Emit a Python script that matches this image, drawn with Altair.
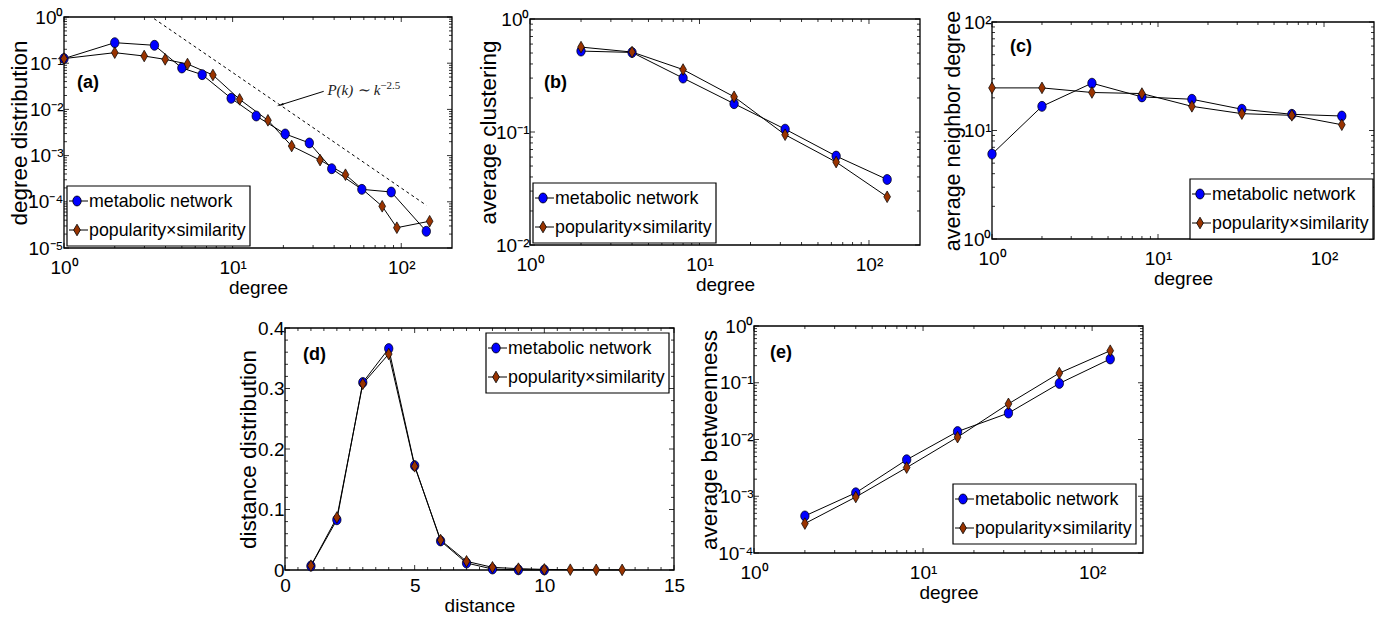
import altair as alt
import pandas as pd

SERIES = ["metabolic network", "popularity×similarity"]
COLORS = ["#0000ff", "#993300"]

# ---------------- data ----------------
# (a) degree distribution
a_k_met = [1, 2, 3.44, 5.0, 6.6, 9.8, 13.8, 20.5, 28.5, 38.7, 58.4, 87.2, 140.8]
a_p_met = [0.126, 0.278, 0.244, 0.0787, 0.0565, 0.0174, 0.0072, 0.00294, 0.00188,
           0.00052, 1.86e-4, 1.63e-4, 2.3e-5]
a_k_ps = [1, 2, 2.99, 3.98, 5.4, 7.64, 11.0, 16.2, 22.4, 33.0, 46.7, 77.1, 94.2, 147.4]
a_p_ps = [0.126, 0.169, 0.143, 0.121, 0.096, 0.0556, 0.0165, 0.0058, 0.00161, 0.0008,
          3.86e-4, 8.0e-5, 2.75e-5, 3.8e-5]
a_ref_k = [3.42, 141.0]
a_ref_p = [0.92, 8.4e-5]
a_arrow_k = [34.7, 19.4]
a_arrow_p = [0.0246, 0.01264]
a_note_k = [36.5, 75.0]
a_note_p = [0.0262, 0.0318]
a_note_text = ["P(k) ∼ k", "−2.5"]

# (b) average clustering
b_k = [2, 4, 8, 16, 32, 64, 128]
b_met = [0.52, 0.506, 0.30, 0.178, 0.106, 0.0612, 0.038]
b_ps = [0.564, 0.51, 0.357, 0.205, 0.0946, 0.0542, 0.0267]

# (c) average neighbor degree
c_k = [1, 2, 4, 8, 16, 32, 64, 128]
c_met = [6.06, 16.7, 27.3, 20.4, 19.4, 15.7, 14.1, 13.6]
c_ps = [24.7, 24.7, 22.4, 21.9, 16.7, 14.3, 13.8, 11.3]

# (d) distance distribution
d_l_met = [1, 2, 3, 4, 5, 6, 7, 8, 9, 10]
d_met = [0.0066, 0.083, 0.310, 0.366, 0.1725, 0.048, 0.0115, 0.0016, 0.0003, 0.0001]
d_l_ps = [1, 2, 3, 4, 5, 6, 7, 8, 9, 10, 11, 12, 13]
d_ps = [0.0071, 0.0868, 0.3077, 0.357, 0.1714, 0.0495, 0.0143, 0.0044, 0.0022, 0.001,
        0.0005, 0.0003, 0.0002]

# (e) average betweenness
e_k = [2, 4, 8, 16, 32, 64, 128]
e_met = [4.5e-4, 1.15e-3, 4.4e-3, 0.0138, 0.0292, 0.0973, 0.262]
e_ps = [3.3e-4, 9.7e-4, 3.2e-3, 0.011, 0.0425, 0.148, 0.367]

# tick values
log_x_major = [1, 10, 100]
lin_d_x = [0, 5, 10, 15]
lin_d_y = [0, 0.1, 0.2, 0.3, 0.4]

# ---------------- styling helpers ----------------
FONT = "Liberation Sans"
SUPS = {"-": "⁻", "0": "⁰", "1": "¹", "2": "²", "3": "³", "4": "⁴", "5": "⁵"}


def ok_neg_titlepad():
    try:
        alt.Axis(titlePadding=-3).to_dict()
        return True
    except Exception:
        return False


NEG_OK = ok_neg_titlepad()


def tp(v):
    return v if NEG_OK else max(v, 0)


def sup(n):
    return "".join(SUPS[c] for c in str(n))


def log_label_expr(exps):
    e = "round(log(datum.value)/LN10)"
    expr = "''"
    for k in exps:
        expr = f"({e}=={k} ? '10{sup(k)}' : {expr})"
    return expr


def ellipse(rx, ry):
    return f"M{rx},0A{rx},{ry},0,1,1,{-rx},0A{rx},{ry},0,1,1,{rx},0Z"


def diamond(hw, hh):
    return f"M0,{-hh}L{hw},0L0,{hh}L{-hw},0Z"


PT_SIZE = 144  # unit = 6 px
PT_CIRCLE = ellipse(0.7, 0.83)
PT_DIAMOND = diamond(0.56, 0.97)
SHAPES = [PT_CIRCLE, PT_DIAMOND]

# legend box geometry (pixels)
LEG_W, LEG_H = 183, 60
LEG_ROW = [15, 44]


def make_df(x1, y1, x2, y2):
    rows = [{"x": a, "y": b, "series": SERIES[0]} for a, b in zip(x1, y1)]
    rows += [{"x": a, "y": b, "series": SERIES[1]} for a, b in zip(x2, y2)]
    return pd.DataFrame(rows)


def log_minor(lo, hi):
    out = []
    e = -6
    while 10 ** e <= hi:
        for m in range(2, 10):
            v = m * 10 ** e
            if lo < v < hi:
                out.append(v)
        e += 1
    return out


def log_major(lo, hi):
    out = []
    e = -6
    while 10 ** e <= hi:
        v = 10 ** e
        if lo <= v <= hi:
            out.append(v)
        e += 1
    return out


def log_axis(title, exps, values, **kw):
    return alt.Axis(title=title, values=values, labelExpr=log_label_expr(exps), **kw)


def legend_layers(lx, ly):
    """Legend box in the MATLAB style: a framed box, a short line through each marker."""
    one = pd.DataFrame({"k": [0]})
    out = [alt.Chart(one).mark_rect(fill="white", stroke="black", strokeWidth=1.2).encode(
        x=alt.value(lx), x2=alt.value(lx + LEG_W), y=alt.value(ly), y2=alt.value(ly + LEG_H))]
    for i, name in enumerate(SERIES):
        cy = ly + LEG_ROW[i]
        out.append(alt.Chart(one).mark_rule(color="black", strokeWidth=1).encode(
            x=alt.value(lx + 2), x2=alt.value(lx + 21), y=alt.value(cy)))
        out.append(alt.Chart(one).mark_point(
            shape=SHAPES[i], size=PT_SIZE, filled=True, fill=COLORS[i], stroke="black",
            strokeWidth=0.8, opacity=1).encode(x=alt.value(lx + 10), y=alt.value(cy)))
        out.append(alt.Chart(pd.DataFrame({"t": [name]})).mark_text(
            font=FONT, fontSize=17.8, align="left", baseline="middle", color="black").encode(
            text="t:N", x=alt.value(lx + 22), y=alt.value(cy + 1)))
    return out


def panel(df, xdef, ydef, gw, box, xt, yt, legend_xy, label, label_xy, extra=None):
    """gw: group width; box=(x0,x1,y0,y1): plot frame inside the group (y1 = group height)."""
    x0, x1, y0, y1 = box
    X = xdef([x0, x1])
    Y = ydef([y1, y0], -x0)
    layers = []
    frame = alt.Chart(pd.DataFrame({"k": [0]})).mark_rect(
        fillOpacity=0, stroke="black", strokeWidth=1.3).encode(
        x=alt.value(x0), x2=alt.value(x1), y=alt.value(y0), y2=alt.value(y1))
    layers.append(frame)
    # inward ticks (major, minor) on all four sides
    for vals, L in ((xt[0], 5), (xt[1], 3)):
        tdf = pd.DataFrame({"x": vals})
        base = alt.Chart(tdf).mark_rule(color="black", strokeWidth=0.8)
        layers.append(base.encode(x=X, y=alt.value(y1), y2=alt.value(y1 - L)))
        layers.append(base.encode(x=X, y=alt.value(y0), y2=alt.value(y0 + L)))
    for vals, L in ((yt[0], 5), (yt[1], 3)):
        tdf = pd.DataFrame({"y": vals})
        base = alt.Chart(tdf).mark_rule(color="black", strokeWidth=0.8)
        layers.append(base.encode(y=Y, x=alt.value(x0), x2=alt.value(x0 + L)))
        layers.append(base.encode(y=Y, x=alt.value(x1), x2=alt.value(x1 - L)))
    if extra:
        layers += extra(X, Y)
    lines = alt.Chart(df).mark_line(color="black", strokeWidth=1).encode(
        x=X, y=Y, detail="series:N")
    pts = alt.Chart(df).mark_point(filled=True, stroke="black", strokeWidth=0.7,
                                   size=PT_SIZE, opacity=1).encode(
        x=X, y=Y,
        color=alt.Color("series:N", scale=alt.Scale(domain=SERIES, range=COLORS), legend=None),
        shape=alt.Shape("series:N", scale=alt.Scale(domain=SERIES, range=SHAPES), legend=None),
    )
    lab = alt.Chart(pd.DataFrame({"t": [label]})).mark_text(
        font=FONT, fontWeight="bold", fontSize=18, align="left", baseline="middle", color="black"
    ).encode(text="t:N", x=alt.value(label_xy[0] + x0), y=alt.value(label_xy[1] + y0))
    layers += [lines, pts]
    layers += legend_layers(legend_xy[0] + x0, legend_xy[1] + y0)
    layers.append(lab)
    return alt.layer(*layers).properties(width=gw, height=y1)


def extra_a(X, Y):
    ref = alt.Chart(pd.DataFrame({"x": a_ref_k, "y": a_ref_p})).mark_line(
        color="black", strokeDash=[3, 3], strokeWidth=1).encode(x=X, y=Y)
    arr = alt.Chart(pd.DataFrame({"x": a_arrow_k[:1], "y": a_arrow_p[:1],
                                  "x2": a_arrow_k[1:], "y2": a_arrow_p[1:]})).mark_rule(
        color="black", strokeWidth=1).encode(x=X, y=Y, x2="x2:Q", y2="y2:Q")
    head = alt.Chart(pd.DataFrame({"x": a_arrow_k[1:], "y": a_arrow_p[1:]})).mark_point(
        shape="wedge", angle=252, size=70, filled=True, color="black", opacity=1).encode(x=X, y=Y)
    note = alt.Chart(pd.DataFrame({"x": a_note_k[:1], "y": a_note_p[:1], "t": a_note_text[:1]})).mark_text(
        font="Liberation Serif", fontStyle="italic", fontSize=15, align="left", baseline="middle",
        color="#222222").encode(x=X, y=Y, text="t:N")
    expo = alt.Chart(pd.DataFrame({"x": a_note_k[1:], "y": a_note_p[1:], "t": a_note_text[1:]})).mark_text(
        font="Liberation Serif", fontSize=11, align="left", baseline="middle",
        color="#222222").encode(x=X, y=Y, text="t:N")
    return [ref, arr, head, note, expo]


def xlog(rng):
    return alt.X("x:Q", scale=alt.Scale(type="log", domain=[1, 200], nice=False, range=rng),
                 axis=log_axis("degree", [0, 1, 2], log_x_major, labelPadding=10))


def ylog(title, lo_e, hi_e, tsize=22.5, tpad=-3.5):
    vals = [10.0 ** e for e in range(lo_e, hi_e + 1)]
    exps = list(range(lo_e, hi_e + 1))

    def make(rng, offset):
        return alt.Y("y:Q", scale=alt.Scale(type="log", domain=[vals[0], vals[-1]], nice=False,
                                            range=rng),
                     axis=log_axis(title, exps, vals, offset=offset, titleFontSize=tsize,
                                   titlePadding=tp(tpad)))
    return make


def xd(rng):
    return alt.X("x:Q", scale=alt.Scale(domain=[0, 15], nice=False, range=rng),
                 axis=alt.Axis(title="distance", values=lin_d_x, format="~g", labelPadding=6))


def yd(rng, offset):
    return alt.Y("y:Q", scale=alt.Scale(domain=[0, 0.4], nice=False, range=rng),
                 axis=alt.Axis(title="distance distribution", values=lin_d_y, format="~g",
                               titleFontSize=22.5, titlePadding=tp(-3), offset=offset))


# ---------------- panels ----------------
A = panel(make_df(a_k_met, a_p_met, a_k_ps, a_p_ps), xlog, ylog("degree distribution", -5, 0),
          388, (0, 388, 0, 231),
          (log_major(1, 200), log_minor(1, 200)), (log_major(1e-5, 1), log_minor(1e-5, 1)),
          (3, 169), "(a)", (13, 66), extra_a)

B = panel(make_df(b_k, b_met, b_k, b_ps), xlog, ylog("average clustering", -2, 0, tpad=-5),
          396, (6, 396, 2, 228),
          (log_major(1, 200), log_minor(1, 200)), (log_major(1e-2, 1), log_minor(1e-2, 1)),
          (3, 164), "(b)", (14, 64))

C = panel(make_df(c_k, c_met, c_k, c_ps), xlog, ylog("average neighbor degree", 0, 2, tsize=21.5, tpad=-2),
          382, (0, 382, 5, 222),
          (log_major(1, 200), log_minor(1, 200)), (log_major(1, 100), log_minor(1, 100)),
          (198, 157), "(c)", (18, 25))

d_minor_x = [i * 0.5 for i in range(1, 30) if i % 10 != 0]
d_minor_y = [round(i * 0.02, 2) for i in range(1, 20) if i % 5 != 0]
D = panel(make_df(d_l_met, d_met, d_l_ps, d_ps), xd, yd, 388, (221, 610, 2, 244),
          (lin_d_x, d_minor_x), (lin_d_y, d_minor_y),
          (201, 5), "(d)", (18, 27))

E = panel(make_df(e_k, e_met, e_k, e_ps), xlog, ylog("average betweenness", -4, 0),
          396, (230, 619, 0, 227),
          (log_major(1, 200), log_minor(1, 200)), (log_major(1e-4, 1), log_minor(1e-4, 1)),
          (199, 158), "(e)", (16, 27))

# ---------------- layout ----------------
chart = alt.concat(
    A, B, C, D, E,
    columns=3, spacing=alt.RowColnumber(row=78, column=72), bounds="flush",
).properties(
    padding={"left": 0, "top": 0, "right": 0, "bottom": 0},
).configure(font=FONT).configure_view(
    strokeWidth=0
).configure_axis(
    grid=False, ticks=False, domain=False, labelFont=FONT, labelFontSize=19,
    labelColor="black", labelFlush=False, labelOverlap=False, labelBound=False,
    titleFont=FONT, titleFontWeight="normal", titleColor="black",
).configure_axisX(
    titleFontSize=19, titlePadding=1
).configure_axisY(
    labelPadding=1
)

chart.save("out.html", embed_options={"renderer": "svg", "actions": False})
